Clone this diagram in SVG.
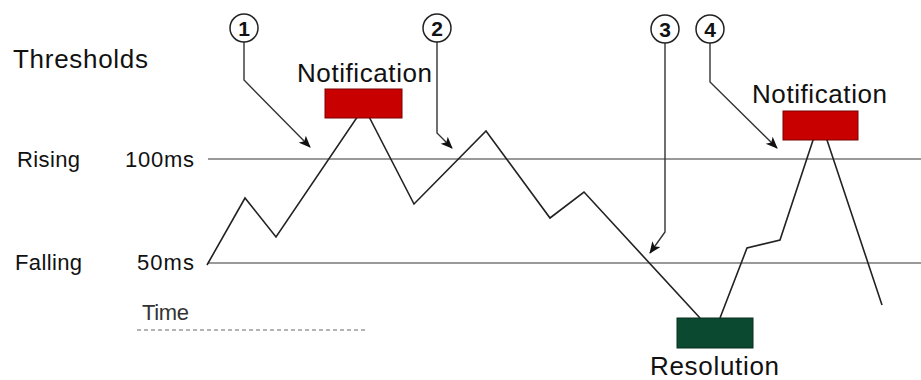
<svg xmlns="http://www.w3.org/2000/svg" width="921" height="380" viewBox="0 0 921 380">
<defs>
<marker id="ah" viewBox="0 0 12 10" refX="11" refY="5" markerWidth="13" markerHeight="10" markerUnits="userSpaceOnUse" orient="auto">
<path d="M0,0 L12,5 L0,10 L3,5 Z" fill="#111"/>
</marker>
<style>
text{font-family:"Liberation Sans",Arial,sans-serif;fill:#111}
.lbl{font-size:22px}
.big{font-size:26px}
.num{font-size:21px;font-weight:bold;text-anchor:middle}
.thr{stroke:#777;stroke-width:1.3;fill:none}
.wave{stroke:#222;stroke-width:1.6;fill:none;stroke-linejoin:miter}
.lead{stroke:#333;stroke-width:1.4;fill:none}
.circ{fill:#fff;stroke:#222;stroke-width:1.5}
.red{fill:#c80000;stroke:#7a0000;stroke-width:1}
.green{fill:#0b4a30;stroke:#062e1e;stroke-width:1}
</style>
</defs>
<rect width="921" height="380" fill="#fff"/>
<g id="labels">
<text x="13" y="68" class="big" textLength="135">Thresholds</text>
<text x="17" y="167" class="lbl" textLength="63">Rising</text>
<text x="125" y="167" class="lbl" textLength="69">100ms</text>
<text x="15" y="270" class="lbl" textLength="67">Falling</text>
<text x="137" y="270" class="lbl" textLength="57">50ms</text>
<text x="142" y="320" class="lbl" style="fill:#333" textLength="47">Time</text>
<line x1="137" y1="330" x2="368" y2="330" stroke="#9a9a9a" stroke-width="1.6" stroke-dasharray="4 3"/>
</g>
<g id="thresholds">
<line class="thr" x1="208" y1="159" x2="921" y2="159"/>
<line class="thr" x1="208" y1="263" x2="921" y2="263"/>
</g>
<g id="waveform">
<polyline class="wave" points="207,265 245,198 276,237 364,107 414,204 486,131 550,218 584,192 700,318"/>
<polyline class="wave" points="720,318 747,248 780,240 820,119 882,305"/>
</g>
<g id="notification1">
<text x="297" y="82" class="big" textLength="135">Notification</text>
<rect class="red" x="325" y="89" width="77" height="29"/>
</g>
<g id="notification2">
<text x="752" y="103" class="big" textLength="135">Notification</text>
<rect class="red" x="783" y="111" width="75" height="29"/>
</g>
<g id="resolution">
<rect class="green" x="677" y="318" width="76" height="30"/>
<text x="650" y="375" class="big" textLength="129">Resolution</text>
</g>
<g id="connectors">
<polyline class="lead" points="244,42 244,80 310,147" marker-end="url(#ah)"/>
<polyline class="lead" points="437,42 437,133 452,148" marker-end="url(#ah)"/>
<polyline class="lead" points="665,43 665,232 650,253" marker-end="url(#ah)"/>
<polyline class="lead" points="710,43 710,82 777,148" marker-end="url(#ah)"/>
</g>
<g id="callout1"><circle class="circ" cx="244" cy="28" r="14"/><text x="244" y="35.5" class="num">1</text></g>
<g id="callout2"><circle class="circ" cx="437" cy="28" r="14"/><text x="437" y="35.5" class="num">2</text></g>
<g id="callout3"><circle class="circ" cx="665" cy="29" r="14"/><text x="665" y="36.5" class="num">3</text></g>
<g id="callout4"><circle class="circ" cx="710" cy="29" r="14"/><text x="710" y="36.5" class="num">4</text></g>
</svg>
